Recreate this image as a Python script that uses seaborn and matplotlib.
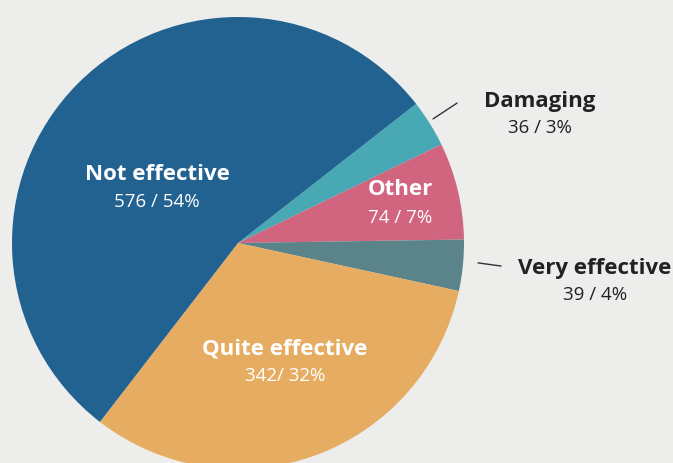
import matplotlib
matplotlib.use("Agg")
import matplotlib.pyplot as plt
import seaborn as sns

categories = ["Damaging", "Other", "Very effective", "Quite effective", "Not effective"]
counts = [36, 74, 39, 342, 576]
pct_labels = ["36 / 3%", "74 / 7%", "39 / 4%", "342/ 32%", "576 / 54%"]
colors = ["#48a9b4", "#d1647e", "#5a848a", "#e6ad62", "#216291"]

BG = "#ededeb"
sns.set_theme(style="white")
plt.rcParams["font.family"] = ["Open Sans", "DejaVu Sans"]

fig = plt.figure(figsize=(6.73, 4.63), dpi=100, facecolor=BG)
ax = fig.add_axes([12 / 673, -6 / 463, 452 / 673, 452 / 463])
ax.set_facecolor(BG)
ax.pie(counts, colors=sns.color_palette(colors), startangle=38.0, counterclock=False,
       radius=1.0, wedgeprops=dict(linewidth=0))
ax.set_xlim(-1, 1)
ax.set_ylim(-1, 1)
ax.set_axis_off()

# label positions (x, y of title; y of numbers), text colour
label_pos = {
    "Not effective": (-0.358, 0.301, 0.181, "white"),
    "Quite effective": (0.208, -0.469, -0.588, "white"),
    "Other": (0.717, 0.235, 0.111, "white"),
    "Damaging": (1.336, 0.628, 0.509, "#222222"),
    "Very effective": (1.580, -0.111, -0.230, "#222222"),
}
for cat, num in zip(categories, pct_labels):
    x, y1, y2, c = label_pos[cat]
    ax.text(x, y1, cat, ha="center", va="center", fontsize=16, fontweight="bold",
            color=c, clip_on=False)
    ax.text(x, y2, num, ha="center", va="center", fontsize=13.5, color=c, clip_on=False)

ax.plot([0.863, 0.969], [0.549, 0.619], color="#333333", lw=1, clip_on=False)
ax.plot([1.062, 1.164], [-0.088, -0.102], color="#333333", lw=1, clip_on=False)

fig.savefig("out.png", dpi=100, facecolor=BG)
